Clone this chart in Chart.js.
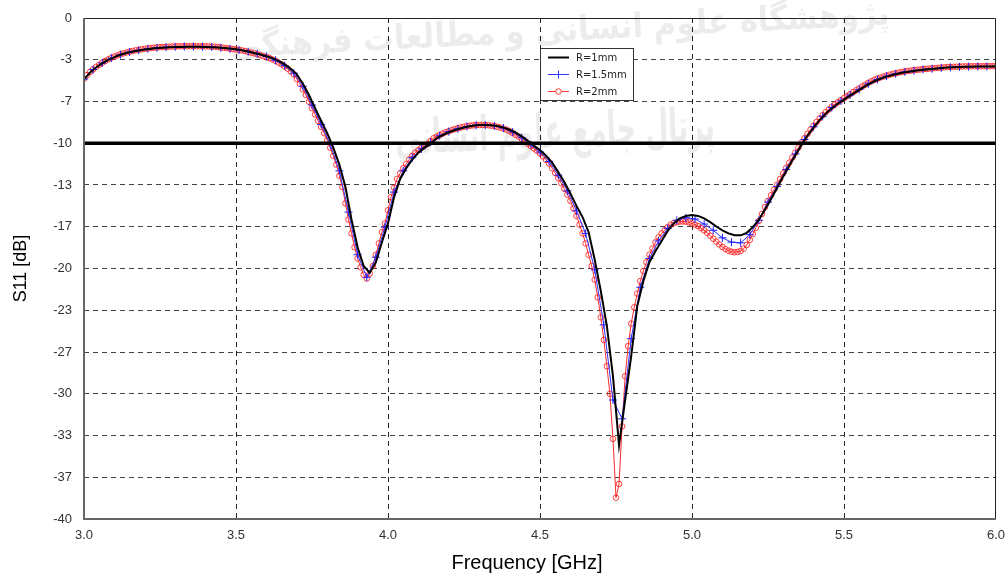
<!DOCTYPE html>
<html>
<head>
<meta charset="utf-8">
<script src="https://cdn.jsdelivr.net/npm/chart.js@4.4.1/dist/chart.umd.min.js"></script>
<style>
  body { margin: 0; background: #fff; }
  canvas { display: block; }
</style>
</head>
<body>
<canvas id="s11-chart" width="1005" height="574"></canvas>
<script>
// S11 readings, each series on its own uniform frequency grid starting at 3.0 GHz
const blackStep = 0.02;
const blackDb = [
  -4.9, -4.35, -3.95, -3.62, -3.35, -3.12, -2.94, -2.8, -2.68, -2.59,
  -2.51, -2.45, -2.4, -2.37, -2.34, -2.32, -2.31, -2.3, -2.3, -2.3,
  -2.31, -2.33, -2.36, -2.4, -2.44, -2.49, -2.57, -2.67, -2.79, -2.92,
  -3.05, -3.2, -3.42, -3.7, -4.05, -4.5, -5.25, -6.15, -7.2, -8.2,
  -9.2, -10.35, -11.7, -13.5, -16.1, -18.3, -19.8, -20.35, -19.5, -17.9,
  -16.4, -14.3, -12.85, -12.0, -11.3, -10.75, -10.35, -10.05, -9.6, -9.35,
  -9.12, -8.95, -8.8, -8.68, -8.6, -8.55, -8.54, -8.56, -8.63, -8.75,
  -8.92, -9.15, -9.45, -9.8, -10.2, -10.55, -11.0, -11.55, -12.3, -13.1,
  -14.0, -15.0, -15.9, -17.1, -19.3, -21.8, -24.6, -28.6, -34.1, -30.5,
  -27.0, -23.0, -21.0, -19.5, -18.6, -17.8, -17.0, -16.4, -16.0, -15.8,
  -15.73, -15.8, -16.0, -16.3, -16.65, -16.95, -17.2, -17.35, -17.35, -17.15,
  -16.7, -16.1, -15.3, -14.45, -13.55, -12.65, -11.8, -10.95, -10.15, -9.4,
  -8.75, -8.15, -7.65, -7.2, -6.85, -6.52, -6.2, -5.9, -5.6, -5.3,
  -5.05, -4.85, -4.68, -4.55, -4.43, -4.34, -4.27, -4.2, -4.14, -4.09,
  -4.05, -4.0, -3.96, -3.93, -3.91, -3.9, -3.89, -3.88, -3.88, -3.88,
  -3.88
];

const blueStep = 0.03;
const blueDb = [
  -4.88, -4.12, -3.6, -3.2, -2.92, -2.72, -2.57, -2.46, -2.38, -2.33,
  -2.3, -2.28, -2.28, -2.29, -2.31, -2.37, -2.46, -2.56, -2.69, -2.86,
  -3.08, -3.38, -3.8, -4.4, -5.45, -6.95, -8.5, -10.1, -12.2, -15.5,
  -18.9, -20.7, -19.1, -16.7, -13.9, -12.2, -11.15, -10.45, -9.93, -9.4,
  -9.07, -8.84, -8.66, -8.56, -8.54, -8.61, -8.79, -9.1, -9.55, -10.12,
  -10.7, -11.45, -12.55, -13.8, -15.4, -17.2, -20.1, -24.5, -30.5, -32.0,
  -25.6, -21.5, -19.2, -17.8, -16.8, -16.15, -15.95, -16.05, -16.45, -16.95,
  -17.55, -17.9, -17.95, -17.3, -16.15, -14.7, -13.45, -12.1, -10.85, -9.7,
  -8.68, -7.85, -7.15, -6.62, -6.15, -5.7, -5.25, -4.9, -4.64, -4.45,
  -4.3, -4.2, -4.11, -4.05, -3.98, -3.94, -3.9, -3.88, -3.87, -3.87,
  -3.87
];

const redStep = 0.01;
const redDb = [
  -4.85, -4.56, -4.3, -4.1, -3.9, -3.73, -3.57, -3.43, -3.3, -3.18,
  -3.07, -2.98, -2.89, -2.82, -2.75, -2.69, -2.63, -2.58, -2.54, -2.5,
  -2.46, -2.43, -2.4, -2.37, -2.35, -2.33, -2.32, -2.3, -2.29, -2.28,
  -2.27, -2.26, -2.26, -2.25, -2.25, -2.25, -2.25, -2.25, -2.25, -2.26,
  -2.26, -2.27, -2.28, -2.3, -2.32, -2.35, -2.38, -2.41, -2.44, -2.48,
  -2.51, -2.55, -2.59, -2.64, -2.7, -2.76, -2.82, -2.89, -2.96, -3.05,
  -3.12, -3.2, -3.31, -3.42, -3.56, -3.7, -3.87, -4.05, -4.27, -4.5,
  -4.87, -5.25, -5.7, -6.15, -6.68, -7.2, -7.7, -8.2, -8.7, -9.2,
  -9.75, -10.35, -11.0, -11.7, -12.6, -13.5, -14.8, -16.1, -17.2, -18.3,
  -19.2, -19.9, -20.5, -20.8, -20.4, -19.8, -18.9, -18.0, -17.1, -16.4,
  -15.35, -14.3, -13.55, -12.85, -12.4, -12.0, -11.65, -11.3, -11.0, -10.75,
  -10.55, -10.35, -10.2, -10.05, -9.82, -9.6, -9.47, -9.35, -9.23, -9.12,
  -9.03, -8.95, -8.87, -8.8, -8.74, -8.68, -8.64, -8.6, -8.57, -8.55,
  -8.54, -8.54, -8.55, -8.56, -8.6, -8.63, -8.69, -8.75, -8.83, -8.92,
  -9.04, -9.18, -9.33, -9.48, -9.66, -9.84, -10.04, -10.24, -10.41, -10.6,
  -10.82, -11.05, -11.33, -11.63, -12.0, -12.38, -12.78, -13.19, -13.64, -14.1,
  -14.6, -15.2, -15.8, -16.5, -17.2, -18.0, -18.9, -19.8, -20.9, -22.3,
  -23.9, -25.7, -27.8, -30.0, -33.6, -38.3, -37.2, -32.6, -28.6, -26.2,
  -24.4, -23.1, -22.0, -21.0, -20.2, -19.5, -18.9, -18.4, -17.9, -17.5,
  -17.2, -16.95, -16.7, -16.5, -16.38, -16.3, -16.25, -16.24, -16.26, -16.32,
  -16.4, -16.5, -16.62, -16.78, -16.95, -17.15, -17.38, -17.62, -17.86, -18.08,
  -18.28, -18.45, -18.58, -18.66, -18.7, -18.68, -18.6, -18.42, -18.12, -17.72,
  -17.25, -16.75, -16.2, -15.65, -15.1, -14.6, -14.15, -13.7, -13.3, -12.85,
  -12.4, -11.95, -11.55, -11.15, -10.75, -10.35, -9.95, -9.6, -9.25, -8.9,
  -8.6, -8.3, -8.02, -7.76, -7.52, -7.3, -7.08, -6.9, -6.72, -6.56,
  -6.4, -6.24, -6.08, -5.92, -5.77, -5.62, -5.47, -5.32, -5.18, -5.05,
  -4.94, -4.84, -4.75, -4.67, -4.6, -4.53, -4.47, -4.41, -4.36, -4.31,
  -4.27, -4.23, -4.2, -4.17, -4.14, -4.11, -4.08, -4.06, -4.04, -4.02,
  -4.0, -3.98, -3.96, -3.94, -3.92, -3.91, -3.9, -3.89, -3.88, -3.87,
  -3.86, -3.86, -3.85, -3.85, -3.85, -3.85, -3.85, -3.85, -3.85, -3.85,
  -3.85
];

// -10 dB reference line
const refFreq = [3.0, 6.0];
const refDb = [-10, -10];

// axis ticks (y labels are the rounded twelfths of 40 dB)
const xTicks = [3.0, 3.5, 4.0, 4.5, 5.0, 5.5, 6.0];
const yTickValues = [-40, -36.667, -33.333, -30, -26.667, -23.333, -20, -16.667, -13.333, -10, -6.667, -3.333, 0];
const yTickLabels = ['-40', '-37', '-33', '-30', '-27', '-23', '-20', '-17', '-13', '-10', '-7', '-3', '0'];

const seriesNames = ['R=1mm', 'R=1.5mm', 'R=2mm'];

function toPoints(values, step) {
  return values.map((v, i) => ({ x: 3 + i * step, y: v }));
}

const AXIS_FONT = 'Liberation Sans, Arial, sans-serif';

// faint watermark text behind the plot
const watermarkPlugin = {
  id: 'watermark',
  beforeDraw(chart) {
    const ctx = chart.ctx;
    ctx.save();
    ctx.fillStyle = 'rgba(170,170,170,0.22)';
    ctx.textAlign = 'center';
    ctx.textBaseline = 'middle';
    ctx.direction = 'rtl';
    const lines = [
      { text: 'پژوهشگاه علوم انسانی و مطالعات فرهنگی', x: 560, y: 32, w: 660, size: 34, rot: -0.05 },
      { text: 'پرتال جامع علوم انسانی', x: 555, y: 135, w: 320, size: 48, rot: -0.04 }
    ];
    lines.forEach(l => {
      ctx.save();
      ctx.translate(l.x, l.y);
      ctx.rotate(l.rot);
      ctx.font = 'bold ' + l.size + 'px "DejaVu Sans"';
      const m = ctx.measureText(l.text).width || 1;
      ctx.scale(l.w / m, 1);
      ctx.fillText(l.text, 0, 0);
      ctx.restore();
    });
    ctx.restore();
  }
};

// plot frame, x-axis title + legend box
const framePlugin = {
  id: 'frame',
  afterDraw(chart) {
    const { ctx, chartArea: a } = chart;
    ctx.save();
    ctx.strokeStyle = '#222';
    ctx.lineWidth = 1;
    ctx.beginPath();
    ctx.moveTo(a.left, a.top + 0.5);
    ctx.lineTo(a.right - 0.5, a.top + 0.5);
    ctx.lineTo(a.right - 0.5, a.bottom);
    ctx.stroke();
    ctx.strokeStyle = '#666';
    ctx.lineWidth = 2;
    ctx.beginPath();
    ctx.moveTo(a.left, a.top);
    ctx.lineTo(a.left, a.bottom);
    ctx.lineTo(a.right, a.bottom);
    ctx.stroke();

    // x axis title, sits a little left of the plot centre in the original
    ctx.fillStyle = '#000';
    ctx.font = '20px ' + AXIS_FONT;
    ctx.textAlign = 'center';
    ctx.textBaseline = 'middle';
    ctx.fillText('Frequency [GHz]', 527, 563);

    // legend
    ctx.textAlign = 'left';
    const bx = 540.5, by = 48.5, bw = 93, bh = 52;
    ctx.fillStyle = '#fff';
    ctx.fillRect(bx, by, bw, bh);
    ctx.strokeStyle = '#333';
    ctx.lineWidth = 1;
    ctx.strokeRect(bx, by, bw, bh);
    const rows = [57.5, 74.5, 91.5];
    const colors = ['#000', '#3333ff', '#ff3333'];
    ctx.font = '10px "DejaVu Sans"';
    rows.forEach((ry, i) => {
      ctx.strokeStyle = colors[i];
      ctx.lineWidth = i === 0 ? 2 : 1;
      ctx.beginPath();
      ctx.moveTo(548, ry);
      ctx.lineTo(569, ry);
      ctx.stroke();
      if (i === 1) {
        ctx.beginPath();
        ctx.moveTo(558.5, ry - 4);
        ctx.lineTo(558.5, ry + 4);
        ctx.stroke();
      }
      if (i === 2) {
        ctx.beginPath();
        ctx.arc(558.5, ry, 2.8, 0, Math.PI * 2);
        ctx.fillStyle = '#fff';
        ctx.fill();
        ctx.stroke();
      }
      ctx.fillStyle = '#222';
      ctx.fillText(seriesNames[i], 576, ry + 0.5);
    });
    ctx.restore();
  }
};

const ctx = document.getElementById('s11-chart').getContext('2d');

new Chart(ctx, {
  type: 'scatter',
  data: {
    datasets: [
      {
        label: '-10 dB',
        data: toPoints(refDb, refFreq[1] - refFreq[0]),
        showLine: true,
        borderColor: '#000',
        borderWidth: 3.5,
        pointRadius: 0,
        order: 0
      },
      {
        label: seriesNames[0],
        data: toPoints(blackDb, blackStep),
        showLine: true,
        borderColor: '#000',
        borderWidth: 2,
        pointRadius: 0,
        order: 1
      },
      {
        label: seriesNames[1],
        data: toPoints(blueDb, blueStep),
        showLine: true,
        borderColor: '#2f2fff',
        borderWidth: 1,
        pointStyle: 'cross',
        pointRadius: 4,
        pointBorderWidth: 1,
        pointBorderColor: '#2020ff',
        order: 2
      },
      {
        label: seriesNames[2],
        data: toPoints(redDb, redStep),
        showLine: true,
        borderColor: '#ff2a2a',
        borderWidth: 1,
        pointStyle: 'circle',
        pointRadius: 2.8,
        pointBorderWidth: 1,
        pointBorderColor: 'rgba(255,30,30,0.85)',
        pointBackgroundColor: 'rgba(255,255,255,0)',
        order: 3
      }
    ]
  },
  options: {
    responsive: false,
    animation: false,
    events: [],
    layout: { padding: { top: 18, right: 9, left: 0, bottom: 0 } },
    plugins: {
      legend: { display: false },
      tooltip: { enabled: false }
    },
    scales: {
      x: {
        type: 'linear',
        min: 3,
        max: 6,
        afterBuildTicks: axis => { axis.ticks = xTicks.map(v => ({ value: v })); },
        afterFit: s => {
          s.height = 55;
          s.paddingLeft = 0;
          s.paddingRight = 0;
        },
        ticks: {
          callback: v => Number(v).toFixed(1),
          padding: 9,
          maxRotation: 0,
          autoSkip: false,
          color: '#333',
          font: { family: AXIS_FONT, size: 13 }
        },
        grid: {
          drawTicks: false,
          color: c => (c.tick && (c.tick.value === 3 || c.tick.value === 6)) ? 'rgba(0,0,0,0)' : '#222',
          lineWidth: 1
        },
        border: { display: false, dash: [5, 4] }
      },
      y: {
        type: 'linear',
        min: -40,
        max: 0,
        afterBuildTicks: axis => { axis.ticks = yTickValues.map(v => ({ value: v })); },
        afterFit: s => {
          s.width = 84;
          s.paddingTop = 0;
          s.paddingBottom = 0;
        },
        ticks: {
          callback: (v, i) => yTickLabels[i],
          padding: 12,
          autoSkip: false,
          color: '#333',
          font: { family: AXIS_FONT, size: 13 }
        },
        grid: {
          drawTicks: false,
          color: c => (c.tick && (c.tick.value === -40 || c.tick.value === 0)) ? 'rgba(0,0,0,0)' : '#444',
          lineWidth: 1
        },
        border: { display: false, dash: [5, 4] },
        title: {
          display: true,
          text: 'S11 [dB]',
          color: '#000',
          font: { family: AXIS_FONT, size: 18 },
          padding: { top: 10, bottom: 0 }
        }
      }
    }
  },
  plugins: [watermarkPlugin, framePlugin]
});
</script>
</body>
</html>
